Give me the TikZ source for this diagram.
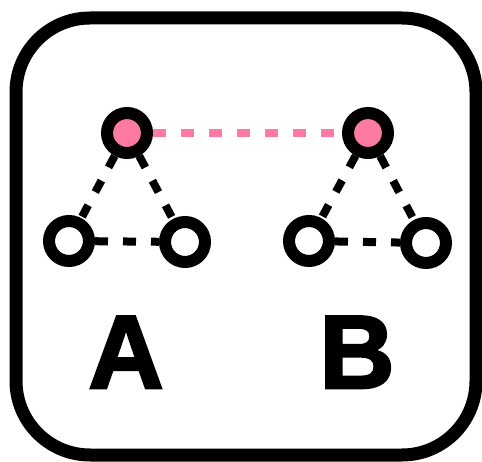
\documentclass[tikz,border=0pt]{standalone}
\usepackage{fontspec}
\newfontfamily\letterfont[BoldFeatures={FakeBold=2.5}]{Liberation Sans}
\definecolor{hubpink}{RGB}{255,122,162}
\tikzset{
  vertex/.style={circle,draw=black,line width=12pt,fill=white,inner sep=0pt,minimum size=40pt},
  hub/.style={vertex,fill=hubpink},
  link/.style={line width=8pt,dash pattern=on 13pt off 15pt},
  letter/.style={anchor=base,font=\letterfont\bfseries\fontsize{104}{104}\selectfont}
}
\begin{document}
\begin{tikzpicture}[x=1pt,y=-1pt]
        \useasboundingbox (0,0) rectangle (482,462);
        \draw[line width=13pt,rounded corners=74pt] (16,18) rectangle (476,455);
        % graph A
        \node[hub] (hubA) at (127,133) {};
        \node[vertex] (leftA) at (69,241) {};
        \node[vertex] (rightA) at (185,242) {};
        % graph B
        \node[hub] (hubB) at (368,133) {};
        \node[vertex] (leftB) at (309,241) {};
        \node[vertex] (rightB) at (426,243) {};
        \draw[link] (hubA) -- (leftA);
        \draw[link] (hubA) -- (rightA);
        \draw[link] (leftA) -- (rightA);
        \draw[link] (hubB) -- (leftB);
        \draw[link] (hubB) -- (rightB);
        \draw[link] (leftB) -- (rightB);
        \draw[link,hubpink] (hubA) -- (hubB);
        \node[letter] (labelA) at (126,388) {A};
        \node[letter] (labelB) at (357,388) {B};
\end{tikzpicture}
\end{document}
